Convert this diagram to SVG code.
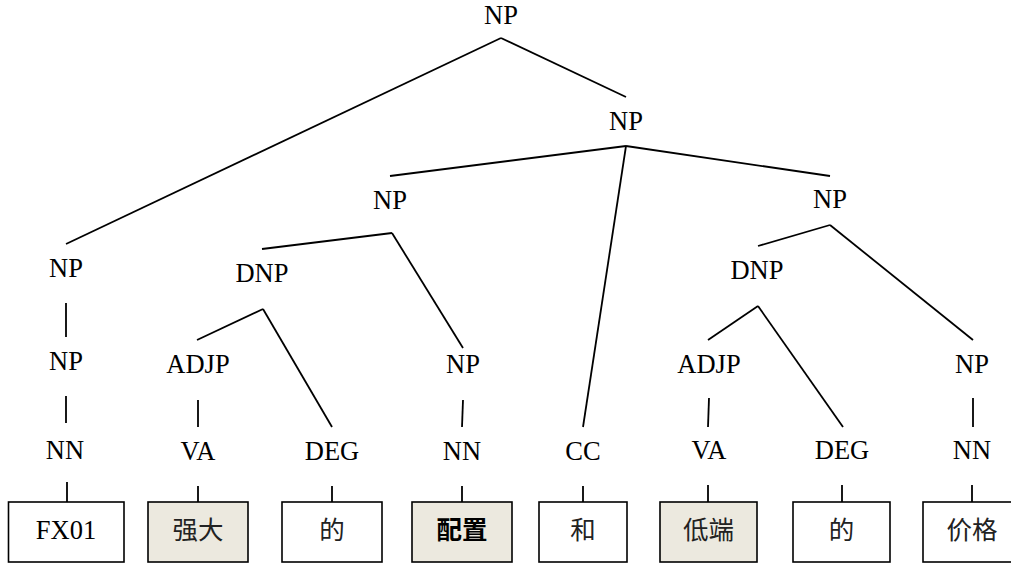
<svg xmlns="http://www.w3.org/2000/svg" width="1011" height="563" viewBox="0 0 1011 563">
<style>
.lbl{font-family:"Liberation Serif","Times New Roman",serif;font-size:26.5px;fill:#000;text-anchor:middle}
.cjk{font-family:"Liberation Serif","Noto Sans CJK SC",sans-serif;font-size:25.5px;fill:#222;text-anchor:middle}
.box{fill:#fff;stroke:#000;stroke-width:1.6}
.hl{fill:#ECE9DF}
.edges line{stroke:#000;stroke-width:1.8;stroke-linecap:butt}
</style>
<rect width="1011" height="563" fill="#fff"/>
<g id="connectors" class="edges">
<line x1="501" y1="38" x2="66" y2="244"/>
<line x1="501" y1="38" x2="626" y2="97"/>
<line x1="626" y1="146" x2="390" y2="176"/>
<line x1="626" y1="146" x2="830" y2="176"/>
<line x1="626" y1="146" x2="583" y2="427"/>
<line x1="392" y1="233" x2="262" y2="249"/>
<line x1="392" y1="233" x2="463" y2="348"/>
<line x1="263" y1="309" x2="197" y2="340"/>
<line x1="263" y1="309" x2="332" y2="427"/>
<line x1="66" y1="303" x2="66" y2="337"/>
<line x1="66" y1="396" x2="66" y2="423"/>
<line x1="198" y1="400" x2="198" y2="427"/>
<line x1="463" y1="400" x2="462" y2="427"/>
<line x1="830" y1="225" x2="758" y2="246"/>
<line x1="830" y1="225" x2="973" y2="340"/>
<line x1="758" y1="306" x2="708" y2="340"/>
<line x1="758" y1="306" x2="843" y2="427"/>
<line x1="709" y1="398" x2="708" y2="427"/>
<line x1="973" y1="398" x2="973" y2="427"/>
<line x1="67" y1="482" x2="67" y2="502"/>
<line x1="198" y1="486" x2="198" y2="502"/>
<line x1="332" y1="486" x2="332" y2="502"/>
<line x1="462" y1="486" x2="462" y2="502"/>
<line x1="583" y1="486" x2="583" y2="502"/>
<line x1="708" y1="485" x2="708" y2="502"/>
<line x1="842" y1="485" x2="842" y2="502"/>
<line x1="972" y1="485" x2="972" y2="502"/>
</g>
<g id="n-np-root"><text class="lbl" x="501" y="24">NP</text></g>
<g id="n-np-coord"><text class="lbl" x="626" y="130">NP</text></g>
<g id="n-np-left"><text class="lbl" x="390" y="209">NP</text></g>
<g id="n-np-right"><text class="lbl" x="830" y="208">NP</text></g>
<g id="n-np-a"><text class="lbl" x="66" y="277">NP</text></g>
<g id="n-dnp1"><text class="lbl" x="262" y="282">DNP</text></g>
<g id="n-dnp2"><text class="lbl" x="757" y="279">DNP</text></g>
<g id="n-np-b"><text class="lbl" x="66" y="370">NP</text></g>
<g id="n-adjp1"><text class="lbl" x="198" y="373">ADJP</text></g>
<g id="n-np-c"><text class="lbl" x="463" y="373">NP</text></g>
<g id="n-adjp2"><text class="lbl" x="709" y="373">ADJP</text></g>
<g id="n-np-d"><text class="lbl" x="972" y="373">NP</text></g>
<g id="n-nn1"><text class="lbl" x="65" y="459">NN</text></g>
<g id="n-va1"><text class="lbl" x="198" y="460">VA</text></g>
<g id="n-deg1"><text class="lbl" x="332" y="460">DEG</text></g>
<g id="n-nn2"><text class="lbl" x="462" y="460">NN</text></g>
<g id="n-cc"><text class="lbl" x="583" y="460">CC</text></g>
<g id="n-va2"><text class="lbl" x="709" y="459">VA</text></g>
<g id="n-deg2"><text class="lbl" x="842" y="459">DEG</text></g>
<g id="n-nn3"><text class="lbl" x="972" y="459">NN</text></g>
<g id="w-fx01"><rect class="box" x="8.5" y="502" width="115.5" height="60"/><text class="lbl" x="66" y="539">FX01</text></g>
<g id="w-qiangda"><rect class="box hl" x="148" y="502" width="100" height="60"/><text class="cjk" x="198" y="539">强大</text></g>
<g id="w-de1"><rect class="box" x="282" y="502" width="100" height="60"/><text class="cjk" x="332" y="539">的</text></g>
<g id="w-peizhi"><rect class="box hl" x="412" y="502" width="100" height="60"/><text class="cjk" x="462" y="539" font-weight="bold" style="fill:#000">配置</text></g>
<g id="w-he"><rect class="box" x="539" y="502" width="88" height="60"/><text class="cjk" x="583" y="539">和</text></g>
<g id="w-diduan"><rect class="box hl" x="660" y="502" width="97" height="60"/><text class="cjk" x="708.5" y="539">低端</text></g>
<g id="w-de2"><rect class="box" x="793" y="502" width="97" height="60"/><text class="cjk" x="841.5" y="539">的</text></g>
<g id="w-jiage"><rect class="box" x="923" y="502" width="98" height="60"/><text class="cjk" x="972" y="539">价格</text></g>
</svg>
